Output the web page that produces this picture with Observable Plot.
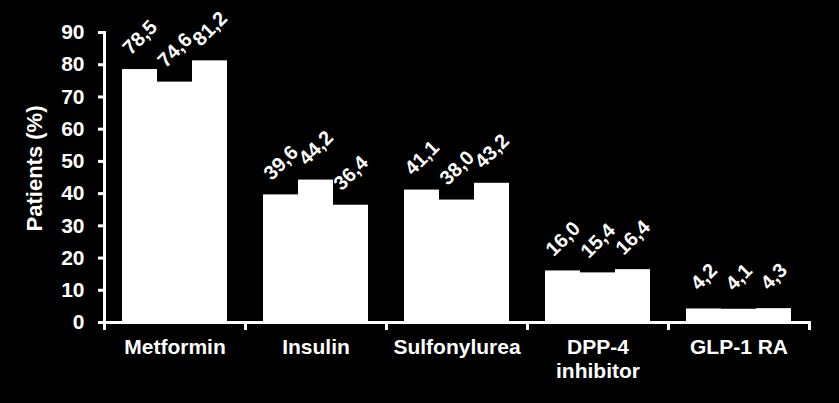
<!DOCTYPE html>
<html>
<head>
<meta charset="utf-8">
<script src="https://cdn.jsdelivr.net/npm/d3@7"></script>
<script src="https://cdn.jsdelivr.net/npm/@observablehq/plot@0.6"></script>
<style>
  html, body { margin: 0; padding: 0; background: #000; }
  #chart { width: 839px; height: 403px; overflow: hidden; }
</style>
</head>
<body>
<div id="chart"></div>
<script>
const categories = ["Metformin", "Insulin", "Sulfonylurea", "DPP-4\ninhibitor", "GLP-1 RA"];
const seriesNames = ["Series 1", "Series 2", "Series 3"];
const series1 = [78.5, 39.6, 41.1, 16.0, 4.2];
const series2 = [74.6, 44.2, 38.0, 15.4, 4.1];
const series3 = [81.2, 36.4, 43.2, 16.4, 4.3];
const yTicks = [0, 10, 20, 30, 40, 50, 60, 70, 80, 90];
const yLabel = "Patients (%)";

const allSeries = [series1, series2, series3];
const data = [];
categories.forEach((c, i) => {
  allSeries.forEach((s, j) => data.push({cat: c, series: seriesNames[j], value: s[i]}));
});
const fmt = v => v.toFixed(1).replace(".", ",");
const font = "Arial, 'Liberation Sans', sans-serif";

const chart = Plot.plot({
  width: 839,
  height: 403,
  marginLeft: 104,
  marginRight: 30,
  marginTop: 32,
  marginBottom: 81,
  style: {background: "#000", color: "#fff", fontFamily: font, fontWeight: "bold"},
  fx: {domain: categories, padding: 0, axis: null},
  x: {domain: seriesNames, paddingInner: 0, paddingOuter: 0.5, axis: null},
  y: {domain: [0, 90], axis: null},
  marks: [
    Plot.barY(data, {fx: "cat", x: "series", y: "value", fill: "#fff"}),
    Plot.ruleY([0], {stroke: "#fff", strokeWidth: 3}),
    Plot.frame({anchor: "left", facetAnchor: "left", stroke: "#fff", strokeWidth: 3}),
    Plot.frame({anchor: "left", insetTop: 290, insetBottom: -6, stroke: "#fff", strokeWidth: 3}),
    Plot.frame({anchor: "right", insetTop: 290, insetBottom: -6, stroke: "#fff", strokeWidth: 3}),
    Plot.axisY({ticks: yTicks, tickSize: 6, tickPadding: 14, fontSize: 21, fontWeight: "bold", label: null, stroke: "#fff", strokeWidth: 3, fill: "#fff"}),
    Plot.text([yLabel], {frameAnchor: "left", facetAnchor: "left", textAnchor: "middle", rotate: -90, dx: -70, dy: -9, fontSize: 22, fontWeight: "bold", fill: "#fff"}),
    Plot.text(data, {fx: "cat", x: "series", y: "value", text: d => fmt(d.value), rotate: -45, dx: 0, dy: -32, fontSize: 20, fontWeight: "bold", fill: "#fff"}),
    Plot.text(categories, {fx: d => d, text: d => d, frameAnchor: "bottom", lineAnchor: "top", dy: 15, fontSize: 21, fontWeight: "bold", lineHeight: 1.12, fill: "#fff"})
  ]
});
document.getElementById("chart").appendChild(chart);
</script>
</body>
</html>
